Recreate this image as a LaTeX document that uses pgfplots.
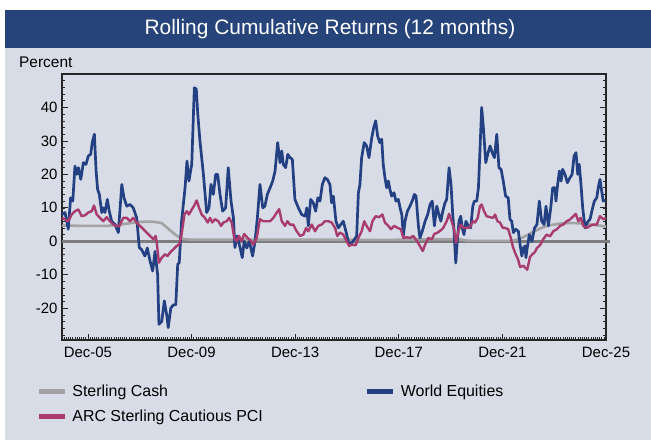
\documentclass[border=0pt]{standalone}
\usepackage{pgfplots}
\pgfplotsset{compat=1.18}
\usepackage{fontspec}
\setmainfont{Liberation Sans}
\definecolor{bgpanel}{RGB}{215,220,230}
\definecolor{titlebar}{RGB}{38,68,122}
\definecolor{equity}{RGB}{35,64,130}
\definecolor{arc}{RGB}{168,60,110}
\definecolor{cash}{RGB}{163,163,163}
\definecolor{zerol}{RGB}{125,125,125}
\begin{document}
\begin{tikzpicture}[x=1bp,y=1bp]
\useasboundingbox (0,0) rectangle (651,440);
\fill[white] (0,0) rectangle (651,440);
\fill[bgpanel] (5,0) rectangle (651,430);
\fill[titlebar] (5,392) rectangle (651,430);
\node[text=white, font=\fontsize{21}{25}\selectfont] at (330,411) {Rolling Cumulative Returns (12 months)};
\node[anchor=west, inner sep=0pt, font=\fontsize{15.5}{18}\selectfont] at (19,378) {Percent};
\begin{axis}[
  scale only axis, width=544bp, height=266bp,
  at={(62bp,100bp)}, anchor=south west,
  xmin=0, xmax=252, ymin=-29.5, ymax=50,
  clip=false,
  axis line style={line width=1.4bp, color=black!85},
  tick align=inside,
  major tick length=6bp, minor tick length=3bp,
  tick style={color=black!85, line width=0.8bp},
  minor tick style={line width=0.6bp},
  xtick pos=bottom, ytick pos=both,
  xtick={12,60,108,156,204,252},
  xticklabels={Dec-05,Dec-09,Dec-13,Dec-17,Dec-21,Dec-25},
  minor xtick={0,1,...,252},
  ytick={-20,-10,0,10,20,30,40},
  yticklabels={-20,-10,0,10,20,30,40},
  minor ytick={-28,-26,...,48},
  tick label style={font=\fontsize{15}{18}\selectfont},
  xticklabel style={yshift=-4bp},
  yticklabel style={xshift=-1bp},
  legend columns=2,
  legend cell align=left,
  legend style={at={(axis description cs:-0.047,-0.163)}, anchor=north west,
    draw=none, fill=none, inner sep=0pt, outer sep=0pt,
    font=\fontsize{16}{18}\selectfont,
    /tikz/every odd column/.append style={column sep=3bp},
    /tikz/every even column/.append style={column sep=100bp},
    row sep=8bp},
  legend image code/.code={\draw[#1, line width=5bp] (0bp,0bp) -- (26bp,0bp);},
]
\addplot[zerol, line width=2.6bp, forget plot] coordinates {(0,0) (254,0)};
\addplot[cash, line width=2.6bp] coordinates {
(0,4.7)(10.7,4.6)(20.8,4.6)(26.9,5.0)(31.5,5.4)(36.1,5.8)(40.8,5.9)(43.9,5.7)(46.2,5.4)(47.7,4.6)(49.2,3.8)(51,2.8)(52.3,2.1)(53.7,1.4)(55.4,0.9)(57,0.6)(59.3,0.5)(120,0.5)(150,0.4)(170,0.6)(184,0.6)(188,0.15)(208,0.1)(209.8,0.3)(212.2,0.8)(214.5,1.5)(216.8,2.3)(219.1,3.1)(221.4,3.8)(223.7,4.4)(226.1,4.8)(230.7,5.3)(235.3,5.5)(241.3,5.3)(247.8,4.8)(252,4.4)
};
\addlegendentry{Sterling Cash}
\addplot[equity, line width=2.7bp, line join=round] coordinates {
(0,8)(1.4,8.6)(2.9,3.6)(4.0,13)(5.0,12)(6.0,22.5)(6.8,20)(7.6,22)(8.7,18.5)(9.9,23.5)(11.1,23)(12.2,25.5)(13.3,26)(14.0,29.5)(15.0,32)(15.8,21)(16.5,15.5)(17.3,14)(18.4,8.6)(19.1,10)(19.9,8.6)(21.0,12.5)(21.9,9)(23.0,6)(24.6,5)(26.1,2.6)(27.7,17)(28.7,13)(30.0,10.5)(31.5,11)(33.0,10)(34.6,7)(35.8,-1.9)(36.9,-2.5)(38.4,-4.4)(39.5,-2)(40.8,-5.9)(42.0,-8.9)(43.1,-3)(44.3,-10)(44.9,-24.8)(46.2,-24)(47.4,-17.8)(48.5,-22)(49.2,-25.8)(50.4,-20)(51.6,-19)(52.7,-19)(53.6,-6.9)(54.3,-6.4)(55.4,6)(57.0,16)(57.9,24)(58.8,18)(60.1,23)(61.3,45.9)(62.2,45.5)(62.9,38)(63.9,30)(65.5,20)(67.0,8.6)(68.1,10)(69.0,17)(70.1,14)(71.2,20)(72.1,20)(73.2,14)(74.4,9)(75.8,10)(77.0,22)(78.3,12)(79.4,7)(80.1,-1.9)(81.2,1.6)(82.5,-1.9)(83.5,-4.9)(84.4,0)(85.6,-2)(86.8,0)(88.3,-4.4)(89.4,0)(90.5,7)(91.7,17)(93.0,10)(94.0,10.5)(95.1,14)(96.4,16)(97.6,18)(98.7,21)(99.9,29.5)(101.0,23.5)(101.8,27)(102.5,23)(103.6,22)(104.6,26)(105.6,25)(106.7,24.5)(107.9,12.5)(109.5,10)(111.0,8)(112.6,7.5)(113.4,10)(114.1,4.6)(115.2,12.5)(116.4,11.5)(117.5,9)(118.5,13)(119.5,12)(120.6,17)(121.8,19)(122.9,18.5)(124.1,17)(124.9,11.5)(125.7,13.5)(126.9,6)(128.0,4)(129.1,5)(130.3,6)(131.5,3)(133.0,-1)(134.2,-0.5)(135.4,0.5)(136.5,1.6)(137.3,14.5)(138.0,17)(138.8,25)(140.0,29.5)(141.1,28.5)(142.2,25)(143.5,31)(144.4,34)(145.3,36)(146.2,31.5)(147.2,29.5)(148.1,30.5)(148.8,23)(149.6,19)(150.4,16)(151.2,18)(151.9,15.5)(152.7,13.5)(153.8,14.5)(154.7,12)(155.8,12.5)(156.6,10)(157.4,8)(158.1,1.6)(158.9,6)(160.0,9)(161.2,10.5)(162.5,12.5)(163.2,14)(164.0,13.5)(165.1,4.6)(165.8,1)(166.9,3)(168.2,6)(169.4,8)(170.5,11)(171.5,12)(172.5,4.6)(173.6,10.5)(174.6,8)(175.5,6)(176.4,9)(177.4,11.5)(178.2,12.5)(179.3,22)(180.2,17)(181.0,8)(181.6,3)(182.4,-6.5)(183.1,0)(183.9,6)(184.7,7.5)(185.4,4)(186.2,2)(187.1,6)(188.2,4.6)(189.3,4)(190.3,10.5)(191.0,12)(192.1,12)(192.9,16)(193.6,27)(194.4,40)(195.2,34)(196.3,23.5)(197.2,26)(198.3,28.5)(199.3,26.5)(200.3,25)(201.4,32)(202.4,22)(203.4,21.5)(204.4,18)(205.5,13.5)(206.7,13)(207.5,6.6)(208.3,6)(209.1,2.6)(210.2,3.6)(211.4,3)(212.2,-1)(213.0,-4.4)(213.7,-2)(214.5,-1.4)(214.9,-4.9)(215.5,-2)(216.5,2)(217.7,0)(218.9,4)(220.0,5)(221.1,12)(222.2,6)(223.3,5)(224.2,10.5)(225.3,4.6)(226.4,10)(227.3,16)(228.4,16)(228.8,12)(229.6,17)(230.4,21)(231.2,18)(231.9,21.5)(233.0,20)(234.1,17.5)(235.3,19)(236.3,20)(237.2,25.5)(238.1,26.5)(238.9,20)(239.6,23)(240.4,17)(241.2,10)(242.3,4)(243.3,5.6)(244.6,6.6)(245.8,10)(246.6,12)(247.7,13)(248.4,16)(249.2,18.5)(250.0,15)(250.7,12)(251.5,12.5)
};
\addlegendentry{World Equities}
\addplot[arc, line width=2.4bp, line join=round] coordinates {
(0,7)(1.4,6.5)(2.9,6)(4.5,8)(6.0,9)(7.6,9.5)(9.1,7.5)(10.7,7.8)(12.2,8.6)(13.8,9)(14.8,10.7)(16.1,8)(17.6,7)(19.1,6)(20.7,7.2)(22.2,6)(23.8,5)(25.3,4.5)(26.5,4.5)(28.4,7)(30.0,7)(31.5,6)(33.0,7)(34.6,5.6)(36.1,4.6)(37.7,3.6)(39.2,2.6)(40.8,1.6)(42.3,0.6)(43.4,1.6)(44.0,-1)(44.9,-6.4)(46.2,-4.9)(47.7,-3.9)(48.9,-4.4)(50.0,-3.4)(51.6,-2.4)(53.1,-1.4)(54.2,-1)(55.4,2)(56.7,8)(57.8,9)(58.8,8)(60.1,9.5)(61.1,10.5)(62.4,12.2)(63.5,10)(64.7,8)(66.2,7)(67.5,5.6)(68.6,7)(69.6,5.6)(70.9,6.6)(72.4,6)(73.7,4.6)(74.7,5.6)(76.3,6)(77.4,7)(78.6,5.6)(79.8,1)(80.9,0)(82.0,1.6)(83.2,0)(84.4,2.2)(86.0,1)(87.4,0.2)(88.6,-1)(90.2,1)(91.7,6.6)(93.2,6)(94.8,6)(96.4,6)(97.9,7)(99.5,8.6)(100.6,9.6)(101.8,6)(103.3,4.6)(104.4,6)(105.6,5)(107.1,5)(108.7,3)(110.3,1.6)(111.8,2)(113.1,4)(114.1,3)(115.7,5)(117.2,3)(118.7,4.6)(120.3,5)(121.8,6)(123.4,6)(124.9,5.6)(126.5,4)(127.5,1.6)(128.8,2.6)(130.3,2)(131.9,0)(133.0,-1.4)(134.2,-1)(136.0,-1.2)(137.3,1)(138.8,3)(140.0,6)(141.1,4.6)(142.7,3)(143.8,6)(145.3,7.5)(146.9,7.2)(148.4,8)(149.6,5.6)(151.2,4.6)(152.4,3.6)(153.9,4.6)(155.5,4)(157.0,3.6)(158.1,1)(159.7,1.2)(161.2,1)(162.7,1.6)(164.3,0.2)(165.8,-1.4)(167.1,-2.9)(168.2,-1)(169.7,1)(171.3,0.6)(172.5,2.2)(174.0,2.6)(175.9,3.5)(176.6,4)(178.2,6)(179.3,8.2)(180.5,6)(181.6,3.6)(182.5,-0.5)(183.6,3)(184.7,5)(185.9,4)(187.4,4)(189.0,4.2)(190.3,6)(191.3,5.6)(192.6,7)(193.6,10.5)(194.4,11)(195.5,9)(196.7,7.5)(198.3,7.2)(199.8,7)(200.6,8)(201.7,6)(202.9,5.6)(204.2,4)(205.2,4)(206.7,3.6)(207.9,1)(208.8,-1.5)(209.9,-3.5)(211.3,-5.5)(212.2,-7.7)(213.7,-7.3)(214.7,-8)(215.5,-8.5)(216.8,-4.7)(217.7,-4)(219.1,-3.2)(220.0,-2)(221.4,-1.2)(222.8,0.5)(224.5,2)(226.1,1.5)(227.6,3)(229.2,3.6)(230.7,4.6)(232.2,5)(233.8,6)(235.3,6.5)(236.9,7.5)(238.0,8.2)(239.2,6)(240.3,7)(241.5,4.6)(243.1,4)(244.6,4.6)(246.1,5)(247.7,5)(249.2,7.5)(250.7,6.6)(252.0,7)
};
\addlegendentry{ARC Sterling Cautious PCI}
\end{axis}
\end{tikzpicture}
\end{document}
